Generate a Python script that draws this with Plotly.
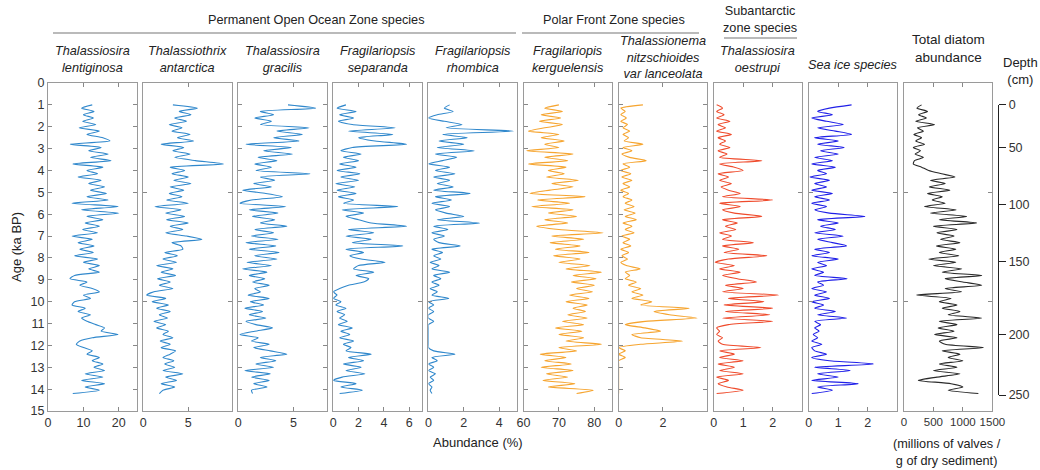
import plotly.graph_objects as go

# ---------------- data ----------------
ages = [1.00, 1.15, 1.30, 1.45, 1.60, 1.75, 1.90, 2.05, 2.20, 2.35,
        2.50, 2.65, 2.80, 2.95, 3.10, 3.25, 3.40, 3.55, 3.70, 3.85,
        4.00, 4.15, 4.30, 4.45, 4.60, 4.75, 4.90, 5.05, 5.20, 5.35,
        5.50, 5.65, 5.80, 5.95, 6.10, 6.25, 6.40, 6.55, 6.70, 6.85,
        7.00, 7.15, 7.30, 7.45, 7.60, 7.75, 7.90, 8.05, 8.20, 8.35,
        8.50, 8.65, 8.80, 8.95, 9.10, 9.25, 9.40, 9.55, 9.70, 9.85,
        10.00, 10.15, 10.30, 10.45, 10.60, 10.75, 10.90, 11.05, 11.20, 11.35,
        11.50, 11.65, 11.80, 11.95, 12.10, 12.25, 12.40, 12.55, 12.70, 12.85,
        13.00, 13.15, 13.30, 13.45, 13.60, 13.75, 13.90, 14.05, 14.20]

t_lentiginosa = [12.5, 9.5, 13.0, 10.0, 12.8, 9.8, 13.5, 8.8, 14.5, 11.0,
                 15.5, 17.5, 6.3, 15.0, 11.5, 17.0, 12.0, 17.8, 7.0, 15.5,
                 11.0, 14.0, 8.5, 15.0, 11.5, 16.0, 12.0, 16.5, 11.0, 17.0,
                 6.8, 19.8, 9.5, 20.0, 11.0, 15.5, 10.5, 14.5, 9.8, 14.0,
                 6.8, 12.5, 8.5, 13.0, 9.0, 12.8, 7.5, 14.0, 10.0, 14.5,
                 11.5, 14.5, 7.5, 6.2, 11.0, 9.0, 12.5, 14.5, 10.0, 12.0,
                 7.5, 6.8, 10.5, 8.5, 12.0, 9.5, 11.0, 13.5, 16.0, 15.0,
                 19.8, 12.5, 9.0, 8.0, 10.0, 12.5, 11.0, 14.5, 12.5, 15.5,
                 13.0, 16.0, 10.5, 15.5, 9.5, 16.0, 10.5, 14.5, 7.0]

t_antarctica = [3.3, 6.0, 4.0, 5.3, 3.5, 4.8, 2.9, 4.3, 3.2, 5.2,
                3.8, 5.6, 2.0, 4.5, 3.3, 5.2, 3.5, 5.8, 8.9, 3.0,
                4.6, 3.2, 5.0, 3.4, 5.3, 3.0, 4.5, 2.9, 4.3, 2.6,
                5.0, 1.3, 4.2, 2.5, 4.6, 2.6, 5.0, 3.0, 4.4, 2.5,
                4.8, 6.5, 3.2, 4.2, 4.4, 2.4, 3.8, 2.2, 3.7, 1.5,
                3.3, 2.0, 3.6, 1.6, 3.0, 1.8, 3.3, 1.2, 0.4, 2.5,
                1.0, 2.8, 1.5, 3.0, 1.8, 2.7, 1.2, 2.5, 1.5, 2.8,
                2.2, 3.3, 1.9, 3.0, 2.0, 3.6, 3.0, 2.2, 3.4, 2.4,
                3.5, 2.2, 4.4, 2.5, 3.7, 2.0, 3.5, 2.2, 1.8]

t_gracilis = [4.5, 7.0, 2.0, 3.2, 1.5, 3.0, 2.0, 6.4, 3.5, 5.8,
              3.2, 5.5, 0.7, 4.8, 2.3, 4.9, 1.8, 3.5, 1.5, 3.0,
              1.6, 6.5, 2.0, 3.3, 1.4, 3.0, 0.4, 2.5, 4.0, 1.2,
              0.15, 4.3, 1.0, 3.6, 1.3, 3.3, 2.0, 4.4, 1.5, 3.2,
              1.2, 3.6, 0.7, 3.4, 1.0, 3.7, 1.5, 3.5, 0.8, 3.0,
              0.4, 2.6, 1.0, 2.4, 1.3, 2.8, 1.5, 2.0, 0.9, 2.8,
              1.1, 2.3, 0.6, 2.2, 1.0, 2.5, 0.7, 1.6, 3.1, 1.5,
              0.15, 1.8, 1.2, 2.8, 1.4, 2.9, 4.4, 2.0, 3.4, 1.6,
              3.2, 0.6, 2.9, 1.2, 2.8, 1.4, 2.6, 1.2, 1.3]

f_separanda = [1.0, 0.3, 1.8, 0.5, 1.6, 0.4, 1.5, 4.9, 1.2, 4.7,
               2.0, 3.3, 5.8, 1.5, 0.6, 2.2, 0.8, 2.0, 0.5, 1.8,
               0.3, 2.1, 0.6, 2.0, 0.2, 1.7, 0.3, 1.8, 0.4, 1.6,
               0.8, 5.1, 0.7, 2.4, 1.0, 2.0, 3.0, 5.8, 1.2, 3.2,
               1.0, 3.0, 1.5, 5.5, 1.0, 2.4, 1.3, 2.2, 4.1, 2.0,
               1.6, 3.2, 1.8, 2.8, 2.4, 1.2, 0.5, 0.0, 0.3, 0.0,
               0.6, 0.2, 1.0, 0.3, 0.9, 0.5, 1.1, 0.4, 1.5, 0.6,
               1.3, 0.5, 1.6, 0.8, 1.4, 1.0, 3.0, 1.2, 2.4, 0.8,
               2.2, 1.0, 2.5, 0.7, 0.0, 1.8, 0.6, 2.3, 0.5]

f_rhombica = [1.2, 0.9, 1.4, 0.5, 0.0, 0.9, 1.9, 1.0, 4.8, 0.8,
              2.2, 0.6, 2.0, 0.5, 2.6, 0.4, 1.6, 0.8, 0.0, 1.2,
              0.4, 1.5, 0.3, 1.2, 0.5, 1.4, 0.3, 2.35, 0.4, 1.3,
              0.2, 1.2, 0.4, 1.0, 2.0, 0.5, 2.9, 0.3, 1.1, 0.2,
              0.9, 0.3, 0.6, 1.8, 0.2, 0.8, 0.3, 0.7, 0.1, 0.6,
              0.2, 1.2, 0.3, 0.7, 0.2, 0.6, 0.1, 0.5, 0.2, 1.15,
              0.0, 0.3, 0.0, 0.3, 0.0, 0.0, 0.3, 0.0, 0.0, 0.0,
              0.0, 0.0, 0.0, 0.0, 0.0, 0.3, 1.5, 0.2, 0.5, 0.0,
              0.3, 0.0, 0.4, 0.1, 0.3, 0.0, 0.2, 0.1, 0.2]

f_kerguelensis = [70.0, 66.0, 71.0, 65.0, 70.5, 64.5, 71.0, 66.0, 61.4, 70.0,
                  65.0, 71.5, 66.0, 70.0, 60.9, 74.0, 66.0, 72.5, 61.4, 72.0,
                  67.0, 71.5, 66.5, 75.5, 68.0, 74.0, 67.5, 61.8, 77.4, 64.0,
                  73.0, 62.3, 74.0, 67.0, 75.0, 66.0, 72.5, 63.7, 70.0, 82.5,
                  68.0, 77.0, 67.5, 76.0, 69.0, 78.5, 68.5, 76.0, 70.0, 78.8,
                  72.0, 82.0, 74.0, 80.5, 73.5, 80.0, 75.0, 79.5, 73.0, 78.5,
                  72.0, 78.0, 74.0, 77.5, 72.5, 78.0, 71.0, 77.0, 69.0, 76.5,
                  70.0, 77.0, 72.0, 82.0, 70.0, 75.0, 64.7, 72.0, 66.0, 73.5,
                  65.0, 74.0, 66.5, 72.5, 65.5, 74.5, 67.0, 79.7, 75.0]

t_nitzschioides = [1.1, 0.1, 0.3, 0.1, 0.35, 0.1, 0.4, 0.2, 0.5, 0.2,
                   0.45, 0.25, 1.1, 0.2, 0.6, 0.15, 0.5, 1.25, 0.2, 0.5,
                   0.1, 0.55, 0.15, 0.6, 0.2, 0.5, 0.1, 0.45, 0.2, 0.6,
                   0.3, 0.7, 0.25, 0.75, 0.3, 0.8, 0.2, 0.6, 0.3, 0.7,
                   0.15, 0.5, 0.2, 0.55, 0.1, 0.45, 0.15, 0.4, 0.1, 0.35,
                   0.97, 0.3, 0.5, 0.3, 0.8, 0.45, 1.0, 0.6, 1.1, 0.6,
                   1.5, 1.0, 3.2, 1.6, 2.3, 3.55, 1.2, 0.3, 1.2, 1.9,
                   0.6, 1.0, 2.9, 1.0, 0.0, 0.3, 0.0, 0.3, 0.0, 0.0,
                   0.0, 0.0, 0.0, 0.0, 0.0, 0.0, 0.0, 0.0, 0.0]

t_oestrupi = [0.1, 0.3, 0.1, 0.35, 0.1, 0.55, 0.15, 0.4, 0.1, 0.6,
              0.15, 0.4, 0.2, 0.55, 0.15, 0.45, 0.2, 1.63, 0.2, 0.7,
              1.0, 0.15, 0.5, 0.2, 0.6, 0.25, 0.5, 0.9, 0.3, 2.0,
              0.2, 0.9, 0.3, 0.7, 1.63, 0.3, 0.8, 0.4, 0.75, 0.2,
              0.6, 0.3, 1.35, 0.3, 0.85, 0.35, 1.8, 0.5, 0.05, 0.7,
              0.2, 0.9, 0.3, 0.8, 1.45, 0.4, 1.0, 0.3, 2.2, 0.5,
              1.7, 0.35, 2.0, 0.4, 1.9, 0.3, 2.0, 0.5, 0.1, 0.2,
              0.1, 0.3, 0.15, 0.3, 1.6, 0.2, 0.7, 0.2, 1.0, 0.15,
              0.7, 0.2, 1.0, 0.1, 0.5, 0.15, 0.45, 1.0, 0.1]

sea_ice = [1.45, 0.7, 0.3, 0.8, 0.1, 0.6, 1.17, 0.3, 0.9, 1.45,
           0.2, 1.0, 0.3, 1.2, 0.4, 1.0, 0.2, 0.8, 0.1, 0.9,
           0.3, 0.6, 0.04, 0.7, 0.2, 0.6, 0.1, 0.8, 0.2, 0.7,
           0.1, 0.6, 0.2, 0.7, 1.9, 0.3, 1.0, 0.4, 0.9, 0.2,
           1.17, 0.3, 0.8, 1.28, 0.2, 0.7, 0.1, 1.0, 0.3, 0.6,
           0.1, 0.5, 0.2, 1.3, 0.3, 0.5, 0.1, 0.6, 0.2, 0.7,
           0.1, 0.5, 0.2, 0.9, 0.3, 1.28, 0.2, 0.4, 0.2, 0.35,
           0.15, 0.3, 0.1, 0.44, 0.1, 0.2, 0.6, 0.1, 0.7, 2.19,
           0.2, 1.4, 0.3, 1.0, 0.1, 1.68, 0.3, 0.8, 0.1]

total_diatoms = [300, 220, 400, 250, 380, 200, 520, 230, 330, 170,
                 300, 200, 350, 160, 280, 190, 330, 180, 160, 300,
                 420, 640, 866, 450, 700, 430, 780, 400, 650, 480,
                 700, 350, 890, 450, 1064, 600, 1234, 500, 900, 560,
                 850, 620, 950, 550, 880, 600, 930, 420, 880, 500,
                 980, 650, 1319, 700, 1000, 1319, 700, 980, 216, 800,
                 600, 900, 650, 950, 750, 1319, 600, 900, 580, 850,
                 520, 900, 600, 700, 1347, 650, 950, 750, 1000, 600,
                 900, 500, 950, 560, 245, 800, 1000, 750, 1262]

depth_cm = [0, 50, 100, 150, 200, 250]
depth_age = [1.0, 2.94, 5.55, 8.17, 11.52, 14.27]

series = [t_lentiginosa, t_antarctica, t_gracilis, f_separanda, f_rhombica,
          f_kerguelensis, t_nitzschioides, t_oestrupi, sea_ice, total_diatoms]
for s in series:
    assert len(s) == len(ages), len(s)

titles = ["<i>Thalassiosira<br>lentiginosa</i>",
          "<i>Thalassiothrix<br>antarctica</i>",
          "<i>Thalassiosira<br>gracilis</i>",
          "<i>Fragilariopsis<br>separanda</i>",
          "<i>Fragilariopsis<br>rhombica</i>",
          "<i>Fragilariopis<br>kerguelensis</i>",
          "<i>Thalassionema<br>nitzschioides<br>var lanceolata</i>",
          "<i>Thalassiosira<br>oestrupi</i>",
          "<i>Sea ice species</i>",
          "Total diatom<br>abundance"]
BLUE = "#3088cc"
colors = [BLUE, BLUE, BLUE, BLUE, BLUE, "#f6a530", "#f6a530", "#ef4b2c", "#2020e8", "#2a2a2a"]
xranges = [[0, 25], [0, 9.8], [0, 8], [0, 7], [0, 5], [60, 85], [0, 4], [0, 3], [0, 3], [0, 1500]]
xticks = [[0, 10, 20], [0, 5], [0, 5], [0, 2, 4, 6], [0, 2, 4], [60, 70, 80], [0, 2],
          [0, 1, 2], [0, 1, 2], [0, 500, 1000, 1500]]
ydticks = [1, 5, 1, 5, 5, 1, 1, 5, 5, 5]
age_ticks = list(range(0, 16))

# ---------------- layout geometry ----------------
W, H = 1040, 470
L, R, T, B = 48, 10, 83, 59
PW, PH = W - L - R, H - T - B
FONT = "Liberation Sans, Arial, sans-serif"


def px(x):
    return (x - L) / PW


def py(y):
    return (H - B - y) / PH


fig = go.Figure()
layout = {}
panel_x = []
for i in range(10):
    x0 = 48 + 95.1 * i
    x1 = x0 + 88.5
    panel_x.append((x0, x1))
    sfx = "" if i == 0 else str(i + 1)
    fig.add_trace(go.Scatter(x=series[i], y=ages, mode="lines",
                             line=dict(color=colors[i], width=1.1, shape="spline", smoothing=0.6),
                             xaxis="x" + sfx, yaxis="y" + sfx,
                             showlegend=False, hoverinfo="skip"))
    layout["xaxis" + sfx] = dict(
        domain=[px(x0), px(x1)], range=xranges[i], tickvals=xticks[i],
        ticks="inside", ticklen=4, tickcolor="#888", showline=True,
        linecolor="#9a9a9a", linewidth=1, mirror="ticks", showgrid=False,
        zeroline=False, anchor="y" + sfx, tickangle=0,
        tickfont=dict(family=FONT, size=11.5 if i == 9 else 12.5, color="#333"))
    layout["yaxis" + sfx] = dict(
        domain=[0, 1], range=[15, 0],
        tickvals=[a for a in age_ticks if a % ydticks[i] == 0],
        ticks="inside", ticklen=4, tickcolor="#888", showline=True,
        linecolor="#9a9a9a", linewidth=1, mirror="ticks", showgrid=False,
        zeroline=False, anchor="x" + sfx, showticklabels=(i == 0),
        tickfont=dict(family=FONT, size=12.5, color="#333"))

# depth axis
fig.add_trace(go.Scatter(x=[None], y=[None], xaxis="x11", yaxis="y11",
                         showlegend=False, hoverinfo="skip"))
y_top = T + PH / 15 * depth_age[0]
y_bot = T + PH / 15 * depth_age[-1]
layout["xaxis11"] = dict(domain=[px(994), px(998)], visible=False, anchor="y11")
layout["yaxis11"] = dict(
    domain=[py(y_bot), py(y_top)], range=[depth_age[-1], depth_age[0]],
    anchor="free", position=px(998), side="right",
    tickvals=depth_age, ticktext=[str(d) for d in depth_cm],
    ticks="outside", ticklen=7, tickcolor="#222", tickwidth=1.3,
    showline=True, linecolor="#222", linewidth=1.3, showgrid=False, zeroline=False,
    tickfont=dict(family=FONT, size=12.5, color="#333"))

TITLE_FONT = dict(family=FONT, size=12.7, color="#222")
annotations = []
for i, (x0, x1) in enumerate(panel_x):
    if i == 8:
        annotations.append(dict(text=titles[i], x=px((x0 + x1) / 2), y=py(65),
                                yanchor="middle", font=TITLE_FONT))
    elif i == 9:
        annotations.append(dict(text=titles[i], x=px((x0 + x1) / 2), y=py(67),
                                yanchor="bottom", font=dict(family=FONT, size=13.5, color="#222")))
    elif i == 6:
        annotations.append(dict(text=titles[i], x=px((x0 + x1) / 2), y=py(83),
                                yanchor="bottom", font=TITLE_FONT))
    else:
        annotations.append(dict(text=titles[i], x=px((x0 + x1) / 2), y=py(77),
                                yanchor="bottom", font=TITLE_FONT))

annotations += [
    dict(text="Permanent Open Ocean Zone species", x=px(316), y=py(20), yanchor="middle"),
    dict(text="Polar Front Zone species", x=px(614), y=py(20), yanchor="middle"),
    dict(text="Subantarctic<br>zone species", x=px(760), y=py(19), yanchor="middle"),
    dict(text="Depth<br>(cm)", x=px(1020), y=py(71), yanchor="middle",
         font=dict(family=FONT, size=13, color="#222")),
    dict(text="Abundance (%)", x=px(478), y=py(442), yanchor="middle",
         font=dict(family=FONT, size=13, color="#222")),
    dict(text="(millions of valves /<br>g of dry sediment)", x=px(947), y=py(452),
         yanchor="middle", font=dict(family=FONT, size=12.7, color="#222")),
    dict(text="Age (ka BP)", x=px(16), y=0.5, textangle=-90, xanchor="center",
         yanchor="middle", font=dict(family=FONT, size=13, color="#222")),
]
for a in annotations:
    a.setdefault("xref", "paper")
    a.setdefault("yref", "paper")
    a.setdefault("showarrow", False)
    a.setdefault("xanchor", "center")
    a.setdefault("font", dict(family=FONT, size=12.7, color="#222"))

shapes = []
for (xa, xb, yy) in [(53, 516, 33), (522, 699, 33), (724, 797, 38)]:
    shapes.append(dict(type="line", xref="paper", yref="paper",
                       x0=px(xa), x1=px(xb), y0=py(yy), y1=py(yy),
                       line=dict(color="#777", width=1.2)))

fig.update_layout(
    width=W, height=H,
    margin=dict(l=L, r=R, t=T, b=B, autoexpand=False),
    paper_bgcolor="white", plot_bgcolor="white",
    annotations=annotations, shapes=shapes,
    font=dict(family=FONT, size=12, color="#222"),
    **layout)

fig.write_html("out.html")
